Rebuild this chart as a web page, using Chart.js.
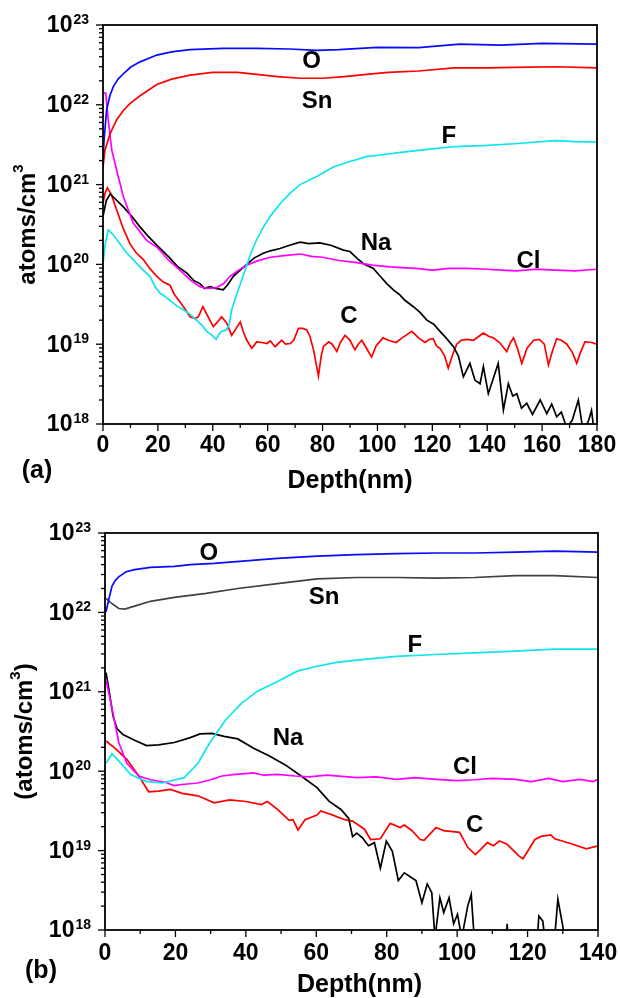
<!DOCTYPE html>
<html>
<head>
<meta charset="utf-8">
<script src="https://cdn.jsdelivr.net/npm/chart.js@4.4.0/dist/chart.umd.min.js"></script>
<style>
  html, body { margin: 0; padding: 0; background: #fff; }
  canvas { display: block; }
</style>
</head>
<body>
<canvas id="chartA" width="620" height="500"></canvas>
<canvas id="chartB" width="620" height="498"></canvas>
<script>
// ---- panel (a): depth (nm) / concentration (atoms/cm3) ----
const depthA_O  = [0, 0.5, 1.3, 2.5, 3.8, 5.5, 7.4, 10, 13.5, 19.6, 25, 31.7, 43.8, 56, 68, 78, 86, 100, 115, 130, 145, 160, 180];
const concA_O   = [2.2e21, 4.0e21, 8.5e21, 1.3e22, 1.7e22, 2.1e22, 2.45e22, 2.95e22, 3.45e22, 4.2e22, 4.6e22, 4.9e22, 5.1e22, 5.1e22, 5.0e22, 4.8e22, 4.9e22, 5.25e22, 5.2e22, 5.75e22, 5.6e22, 5.9e22, 5.75e22];

const depthA_Sn = [0, 0.7, 2.6, 5, 7.4, 10, 13.5, 19.6, 25, 31.7, 40, 49, 56, 63.5, 72, 80, 88, 96, 104, 115, 128, 140, 150, 165, 180];
const concA_Sn  = [1.65e21, 2.7e21, 4.35e21, 6.5e21, 8.5e21, 1.05e22, 1.3e22, 1.8e22, 2.1e22, 2.35e22, 2.55e22, 2.55e22, 2.4e22, 2.25e22, 2.15e22, 2.15e22, 2.25e22, 2.4e22, 2.55e22, 2.65e22, 2.9e22, 2.9e22, 2.95e22, 3.0e22, 2.9e22];

const depthA_F  = [0, 0.8, 1.9, 3.5, 6.2, 8.5, 11, 14, 17.1, 19, 20.8, 22.5, 24.4, 27, 29.3, 31.5, 34.1, 36, 37.8, 39.5, 41.2, 42.2, 43.2, 45, 46, 46.9, 48, 49.3, 51, 52.4, 54, 56, 58.5, 60.9, 64.5, 68.2, 71.8, 77.9, 83.9, 90, 96, 101, 110, 120, 128.5, 140, 150, 164.6, 172, 180];
const concA_F   = [1.02e20, 1.78e20, 2.7e20, 2.4e20, 1.82e20, 1.41e20, 1.15e20, 8.9e19, 7.1e19, 5.25e19, 4.35e19, 4.0e19, 3.55e19, 3.0e19, 2.7e19, 2.4e19, 2.0e19, 1.74e19, 1.45e19, 1.32e19, 1.15e19, 1.32e19, 1.45e19, 1.51e19, 1.78e19, 2.7e19, 3.55e19, 4.8e19, 7.1e19, 9.8e19, 1.41e20, 2.05e20, 2.95e20, 4.0e20, 5.75e20, 7.8e20, 1.0e21, 1.26e21, 1.66e21, 1.95e21, 2.24e21, 2.35e21, 2.57e21, 2.8e21, 3.0e21, 3.1e21, 3.25e21, 3.55e21, 3.45e21, 3.4e21];

const depthA_Cl = [0, 1.0, 1.9, 3.2, 5, 7.4, 11, 15.9, 19.6, 24, 28, 32, 35.3, 38, 41.4, 44, 46.3, 49, 52.4, 56, 60.9, 66, 71.8, 76, 80, 86, 92.5, 98, 104.6, 114, 120, 126, 132.5, 140, 145, 150.8, 158, 165, 172, 180];
const concA_Cl  = [1.4e22, 1.4e22, 6.5e21, 2.7e21, 1.5e21, 7.1e20, 3.3e20, 2.0e20, 1.65e20, 1.12e20, 8.5e19, 6.3e19, 5.25e19, 5.0e19, 5.1e19, 5.75e19, 7.1e19, 8.3e19, 9.8e19, 1.1e20, 1.23e20, 1.29e20, 1.35e20, 1.26e20, 1.23e20, 1.12e20, 1.05e20, 9.8e19, 9.3e19, 8.9e19, 8.5e19, 8.9e19, 8.9e19, 8.7e19, 8.5e19, 8.3e19, 8.7e19, 8.5e19, 8.3e19, 8.7e19];

const depthA_Na = [0, 1.2, 2.6, 4.5, 7.4, 10.5, 13.5, 16.5, 19.6, 22, 24.4, 27, 30.5, 33, 35.3, 37, 39, 41, 43.8, 45.5, 47.5, 50, 52.4, 55, 58.4, 61, 64.5, 68, 71.8, 75, 79, 83, 87.6, 90, 92.5, 94.9, 98.5, 101, 103.4, 105.8, 108, 110, 113.1, 115.5, 118, 120.5, 122.8, 125, 127.7, 129.5, 131.3, 133.7, 135.5, 137.4, 138.6, 140.4, 142.5, 144, 145.9, 147.7, 149.3, 150.8, 152.5, 154.4, 156.5, 159.3, 161.7, 163.5, 165.3, 167, 169, 171, 173.2, 175, 177, 178, 179, 180];
const concA_Na  = [4.0e20, 6.3e20, 7.6e20, 6.6e20, 5.25e20, 4.0e20, 2.95e20, 2.24e20, 1.74e20, 1.45e20, 1.2e20, 9.5e19, 7.8e19, 6.3e19, 5.75e19, 5.0e19, 5.25e19, 5.0e19, 4.8e19, 5.6e19, 7.1e19, 8.5e19, 1.0e20, 1.2e20, 1.38e20, 1.48e20, 1.58e20, 1.74e20, 1.9e20, 1.82e20, 1.86e20, 1.74e20, 1.51e20, 1.45e20, 1.2e20, 1.02e20, 8.9e19, 7.1e19, 5.75e19, 4.8e19, 4.2e19, 3.55e19, 2.95e19, 2.5e19, 2.0e19, 1.78e19, 1.45e19, 1.2e19, 9.3e18, 7.1e18, 3.9e18, 5.75e18, 3.55e18, 3.2e18, 5.25e18, 2.4e18, 4.0e18, 5.75e18, 1.5e18, 3.2e18, 2.24e18, 2.4e18, 1.58e18, 1.82e18, 1.32e18, 2.0e18, 1.35e18, 1.78e18, 1.23e18, 1.41e18, 8.9e17, 1.12e18, 2.0e18, 7.9e17, 1.12e18, 1.48e18, 7.9e17, 8.9e17];

const depthA_C  = [0, 0.8, 1.6, 3, 5, 7.4, 9.8, 12, 14.7, 17, 19.6, 22, 24.4, 26, 28, 29.8, 31.7, 33.5, 34.7, 36.4, 38.3, 40.2, 41.5, 43.2, 45, 46.9, 48.5, 50, 51.2, 52.4, 54.2, 56, 58, 59.7, 61, 62.7, 65.1, 66.5, 68.2, 69.5, 71.2, 72.8, 74.2, 75.4, 76.7, 78.5, 79.5, 80.3, 82.2, 83.5, 85.2, 86.5, 88.2, 90, 91.8, 93, 94.3, 96, 97.9, 99.5, 102, 104, 106.8, 109, 112.5, 115, 117.3, 119, 120.3, 121.5, 122.8, 124.5, 125.8, 127.5, 128.9, 130.5, 132.5, 135, 138.6, 140.5, 142.2, 144.5, 147.1, 148.5, 149.6, 151, 152.6, 154.5, 156.9, 159, 160.8, 162.3, 163.8, 165.3, 167, 169, 171, 172.6, 174, 175.6, 178, 180];
const concA_C   = [5.9e20, 7.9e20, 9.1e20, 7.6e20, 4.8e20, 2.8e20, 1.82e20, 1.41e20, 1.15e20, 8.9e19, 7.1e19, 6.0e19, 5.5e19, 4.2e19, 3.4e19, 2.8e19, 2.2e19, 2.1e19, 2.2e19, 2.95e19, 2.2e19, 1.66e19, 1.86e19, 2.2e19, 1.86e19, 1.29e19, 1.58e19, 1.9e19, 1.41e19, 1.12e19, 8.9e18, 1.07e19, 1.05e19, 1.02e19, 1.1e19, 9.3e18, 1.12e19, 1.0e19, 1.02e19, 1.12e19, 1.58e19, 1.58e19, 1.51e19, 1.26e19, 8.5e18, 4.0e18, 7.1e18, 9.3e18, 1.07e19, 1.0e19, 8.1e18, 1.05e19, 1.29e19, 1.12e19, 8.5e18, 1.0e19, 1.12e19, 8.9e18, 6.9e18, 9.5e18, 1.2e19, 1.12e19, 1.05e19, 1.2e19, 1.45e19, 1.2e19, 1.05e19, 1.15e19, 1.17e19, 9.5e18, 8.9e18, 7.1e18, 5.0e18, 7.6e18, 1.0e19, 1.12e19, 1.15e19, 1.12e19, 1.38e19, 1.26e19, 1.2e19, 1.05e19, 8.1e18, 1.05e19, 1.2e19, 8.9e18, 5.75e18, 8.9e18, 1.12e19, 1.15e19, 1.0e19, 5.5e18, 8.3e18, 1.17e19, 1.12e19, 1.0e19, 7.9e18, 5.75e18, 7.9e18, 1.07e19, 1.05e19, 1.0e19];

// ---- panel (b) ----
const depthB_O  = [0.3, 1, 2, 3, 3.9, 6, 8.4, 12.9, 19.7, 24.2, 31, 40, 49, 60.2, 71.5, 82.7, 94, 105, 116.5, 127.7, 140];
const concB_O   = [1.02e22, 1.41e22, 2.15e22, 2.55e22, 2.8e22, 3.25e22, 3.45e22, 3.7e22, 3.8e22, 4.0e22, 4.15e22, 4.45e22, 4.8e22, 5.1e22, 5.35e22, 5.5e22, 5.6e22, 5.6e22, 5.75e22, 5.9e22, 5.75e22];

const depthB_Sn = [0.3, 1.7, 3.9, 5.6, 8.4, 12.9, 19.7, 28.7, 37.7, 49, 60.2, 71.5, 82.7, 94, 105, 116.5, 127.7, 140];
const concB_Sn  = [1.5e22, 1.32e22, 1.12e22, 1.1e22, 1.2e22, 1.38e22, 1.55e22, 1.74e22, 2.0e22, 2.3e22, 2.65e22, 2.75e22, 2.75e22, 2.7e22, 2.75e22, 2.9e22, 2.9e22, 2.75e22];

const depthB_F  = [0.3, 2, 3.9, 7.3, 11.8, 16.3, 22.5, 26.4, 29.8, 34.3, 38.8, 43.3, 49, 54.6, 60.2, 65.8, 71.5, 82.7, 94, 105, 116.5, 127.7, 140];
const concB_F   = [1.26e20, 1.66e20, 1.35e20, 9.1e19, 7.4e19, 7.1e19, 8.3e19, 1.26e20, 2.3e20, 4.45e20, 7.2e20, 1.02e21, 1.35e21, 1.82e21, 2.1e21, 2.35e21, 2.5e21, 2.8e21, 2.95e21, 3.1e21, 3.25e21, 3.45e21, 3.45e21];

const depthB_Cl = [0.3, 1.7, 3.9, 6.2, 9.6, 12.9, 17.4, 19.5, 21.9, 26.4, 30, 33.2, 37, 42.2, 45, 49, 54, 58, 63, 71.5, 77, 82.7, 88, 94, 100, 105, 110, 116.5, 121, 126, 130, 135, 138.5, 140];
const concB_Cl  = [1.4e21, 7.2e20, 2.3e20, 1.26e20, 8.7e19, 7.8e19, 7.2e19, 6.6e19, 6.8e19, 7.1e19, 7.8e19, 8.7e19, 9.1e19, 9.5e19, 8.9e19, 9.1e19, 8.7e19, 8.5e19, 8.9e19, 8.3e19, 8.5e19, 7.9e19, 8.3e19, 7.9e19, 7.6e19, 7.8e19, 8.1e19, 7.9e19, 7.4e19, 8.1e19, 7.4e19, 7.9e19, 7.4e19, 7.9e19];

const depthB_Na = [0.3, 1.1, 2.3, 3.4, 5.1, 8.4, 11.8, 15.2, 19.7, 24.2, 27, 30.4, 33.8, 37.7, 42.2, 46.7, 51.2, 55.7, 60.2, 63.6, 67, 69.2, 70.3, 71.5, 73.1, 74.8, 76.5, 78.2, 79.9, 81.6, 83.3, 85, 88.3, 90, 91.5, 92.8, 93.7, 95.1, 96.2, 97.7, 99, 100.1, 101.3, 103, 104, 105, 110, 113.8, 114.2, 114.6, 122.5, 123.2, 124.3, 125.2, 127.5, 128.6, 130, 130.8];
const concB_Na  = [1.74e21, 1.07e21, 4.9e20, 3.45e20, 2.9e20, 2.45e20, 2.1e20, 2.15e20, 2.3e20, 2.65e20, 2.95e20, 3.0e20, 2.75e20, 2.55e20, 1.95e20, 1.55e20, 1.2e20, 8.7e19, 6.2e19, 4.2e19, 3.3e19, 2.55e19, 1.5e19, 1.66e19, 1.45e19, 1.15e19, 1.26e19, 6.0e18, 1.32e19, 9.8e18, 4.2e18, 5.25e18, 4.2e18, 2.2e18, 3.8e18, 2.95e18, 7.9e17, 2.55e18, 1.66e18, 2.55e18, 1.2e18, 1.58e18, 7.9e17, 2.0e18, 2.8e18, 6.3e17, 5e17, 5e17, 1.2e18, 5e17, 5e17, 1.5e18, 1.3e18, 6.3e17, 6.3e17, 2.45e18, 1.12e18, 6.3e17];

const depthB_C  = [0.3, 2.8, 6.2, 9.6, 12.4, 15.2, 18.6, 21.9, 26.4, 31, 35.4, 40, 44.4, 46.1, 49, 52.3, 53.4, 54.8, 56.8, 60.2, 61.3, 64.7, 68.1, 70.3, 73.7, 75.4, 78.2, 81, 83.8, 85, 87.2, 89.5, 90.6, 94, 96.2, 100.7, 103, 105.2, 108.6, 110.3, 112, 114.2, 117.6, 118.7, 122.1, 123.8, 126.6, 127.7, 132.2, 136.7, 140];
const concB_C   = [2.4e20, 1.95e20, 1.41e20, 8.7e19, 5.5e19, 5.6e19, 5.9e19, 5.25e19, 4.9e19, 4.0e19, 4.35e19, 4.15e19, 3.8e19, 4.15e19, 3.3e19, 2.4e19, 2.45e19, 1.82e19, 2.45e19, 2.8e19, 3.15e19, 2.8e19, 2.45e19, 2.35e19, 1.86e19, 1.38e19, 1.41e19, 2.2e19, 1.95e19, 2.1e19, 1.78e19, 1.38e19, 1.35e19, 1.95e19, 1.78e19, 1.7e19, 1.1e19, 8.9e18, 1.26e19, 1.15e19, 1.32e19, 1.2e19, 8.5e18, 7.9e18, 1.38e19, 1.51e19, 1.58e19, 1.41e19, 1.23e19, 1.05e19, 1.15e19];

// ---- axes and labels ----
const yExponents = [18, 19, 20, 21, 22, 23];
const xTicksA = [0, 20, 40, 60, 80, 100, 120, 140, 160, 180];
const xTicksB = [0, 20, 40, 60, 80, 100, 120, 140];

const speciesA = ['O', 'Sn', 'F', 'Na', 'Cl', 'C'];
const speciesDepthA = [76, 78, 126, 99.5, 155, 89.6];
const speciesConcA = [3.5e22, 1.1e22, 4.0e21, 1.85e20, 1.1e20, 2.2e19];

const speciesB = ['O', 'Sn', 'F', 'Na', 'Cl', 'C'];
const speciesDepthB = [29.5, 62.2, 88, 52, 102.2, 105];
const speciesConcB = [5.6e22, 1.55e22, 3.8e21, 2.6e20, 1.12e20, 2.05e19];

const FAMILY = '"Liberation Sans", Arial, sans-serif';
const TICK_FONT = 'bold 23px ' + FAMILY;
const EXP_FONT = 'bold 14px ' + FAMILY;
const TITLE_FONT = 'bold 24px ' + FAMILY;
const SUP_FONT = 'bold 15px ' + FAMILY;

function pts(xs, ys) {
  return xs.map((x, i) => ({ x: x, y: ys[i] }));
}

function line(ctx, x1, y1, x2, y2) {
  ctx.beginPath();
  ctx.moveTo(x1, y1);
  ctx.lineTo(x2, y2);
  ctx.stroke();
}

// "10" with the exponent raised, right edge at `right`
function drawPower(ctx, exp, right, cy) {
  const e = String(exp);
  ctx.font = TICK_FONT;
  const w1 = ctx.measureText('10').width;
  ctx.font = EXP_FONT;
  const w2 = ctx.measureText(e).width;
  ctx.textAlign = 'left';
  ctx.font = TICK_FONT;
  ctx.textBaseline = 'middle';
  ctx.fillText('10', right - w2 - w1 - 1, cy + 1);
  ctx.font = EXP_FONT;
  ctx.textBaseline = 'alphabetic';
  ctx.fillText(e, right - w2, cy - 1);
}

// vertical title; parts = [[text, isSuperscript], ...]
function drawYTitle(ctx, parts, cx, cy) {
  ctx.save();
  ctx.translate(cx, cy);
  ctx.rotate(-Math.PI / 2);
  let total = 0;
  const widths = parts.map(p => {
    ctx.font = p[1] ? SUP_FONT : TITLE_FONT;
    const w = ctx.measureText(p[0]).width;
    total += w;
    return w;
  });
  let x = -total / 2;
  ctx.textAlign = 'left';
  ctx.textBaseline = 'middle';
  parts.forEach((p, i) => {
    ctx.font = p[1] ? SUP_FONT : TITLE_FONT;
    ctx.fillText(p[0], x, p[1] ? -9 : 0);
    x += widths[i];
  });
  ctx.restore();
}

function decor(spec) {
  return {
    id: 'decor' + spec.letter,
    afterDraw(chart) {
      const ctx = chart.ctx;
      const ca = chart.chartArea;
      const xs = chart.scales.x;
      const ys = chart.scales.y;
      ctx.save();
      ctx.fillStyle = '#000';
      ctx.strokeStyle = '#000';

      // frame
      ctx.lineWidth = 1.8;
      ctx.strokeRect(ca.left, ca.top, ca.right - ca.left, ca.bottom - ca.top);

      // y ticks (decades + minor 2..9)
      ctx.lineWidth = 1.3;
      yExponents.forEach((e, i) => {
        const py = ys.getPixelForValue(Math.pow(10, e));
        line(ctx, ca.left - 7, py, ca.left, py);
        if (i < yExponents.length - 1) {
          for (let m = 2; m <= 9; m++) {
            const pm = ys.getPixelForValue(m * Math.pow(10, e));
            line(ctx, ca.left - 4, pm, ca.left, pm);
          }
        }
        drawPower(ctx, e, ca.left - 14, py);
      });

      // x ticks
      const xt = spec.xTicks;
      ctx.font = TICK_FONT;
      ctx.textAlign = 'center';
      ctx.textBaseline = 'middle';
      xt.forEach((v, i) => {
        const px = xs.getPixelForValue(v);
        line(ctx, px, ca.bottom, px, ca.bottom + 7);
        if (i < xt.length - 1) {
          const pm = xs.getPixelForValue((v + xt[i + 1]) / 2);
          line(ctx, pm, ca.bottom, pm, ca.bottom + 4);
        }
        ctx.fillText(String(v), px, ca.bottom + spec.tickLabelGap);
      });

      // axis titles and panel letter
      ctx.font = 'bold 25px ' + FAMILY;
      ctx.fillText('Depth(nm)', (ca.left + ca.right) / 2 + spec.xTitleShift, ca.bottom + spec.xTitleGap);
      ctx.fillText('(' + spec.letter + ')', spec.letterX, ca.bottom + spec.letterGap);
      drawYTitle(ctx, spec.yTitle, spec.yTitleX, (ca.top + ca.bottom) / 2);

      // species names
      ctx.font = TITLE_FONT;
      ctx.textAlign = 'center';
      ctx.textBaseline = 'middle';
      spec.names.forEach((n, i) => {
        ctx.fillText(n, xs.getPixelForValue(spec.nameDepth[i]), ys.getPixelForValue(spec.nameConc[i]));
      });
      ctx.restore();
    }
  };
}

function series(label, xs, ys, color) {
  return {
    label: label,
    data: pts(xs, ys),
    borderColor: color,
    borderWidth: 1.7,
    pointRadius: 0,
    tension: 0,
    fill: false
  };
}

function makeChart(id, datasets, xMax, layout, spec) {
  return new Chart(document.getElementById(id), {
    type: 'line',
    data: { datasets: datasets },
    options: {
      responsive: false,
      animation: false,
      parsing: false,
      layout: { padding: { left: 0, top: layout.top, right: layout.right, bottom: 0 } },
      plugins: { legend: { display: false }, tooltip: { enabled: false } },
      scales: {
        x: {
          type: 'linear', min: 0, max: xMax,
          grid: { display: false }, border: { display: false },
          ticks: { display: false },
          afterFit(s) { s.height = layout.xHeight; }
        },
        y: {
          type: 'logarithmic', min: 1e18, max: 1e23,
          grid: { display: false }, border: { display: false },
          ticks: { display: false },
          afterFit(s) { s.width = layout.left; }
        }
      }
    },
    plugins: [decor(spec)]
  });
}

const BLUE = '#0a0aff', RED = '#ff0000', MAGENTA = '#ff00ff', CYAN = '#10e4ec', BLACK = '#000000', GREY = '#404040';

makeChart('chartA', [
  series('O', depthA_O, concA_O, BLUE),
  series('Sn', depthA_Sn, concA_Sn, RED),
  series('F', depthA_F, concA_F, CYAN),
  series('Cl', depthA_Cl, concA_Cl, MAGENTA),
  series('Na', depthA_Na, concA_Na, BLACK),
  series('C', depthA_C, concA_C, RED)
], 180, { top: 25, right: 23, left: 103, xHeight: 76 }, {
  letter: 'a', xTicks: xTicksA, tickLabelGap: 22, xTitleGap: 57, xTitleShift: 0,
  letterX: 37, letterGap: 47,
  yTitle: [['atoms/cm', false], ['3', true]], yTitleX: 28,
  names: speciesA, nameDepth: speciesDepthA, nameConc: speciesConcA
});

makeChart('chartB', [
  series('O', depthB_O, concB_O, BLUE),
  series('Sn', depthB_Sn, concB_Sn, GREY),
  series('F', depthB_F, concB_F, CYAN),
  series('Cl', depthB_Cl, concB_Cl, MAGENTA),
  series('Na', depthB_Na, concB_Na, BLACK),
  series('C', depthB_C, concB_C, RED)
], 140, { top: 33, right: 22, left: 105, xHeight: 68 }, {
  letter: 'b', xTicks: xTicksB, tickLabelGap: 24, xTitleGap: 55, xTitleShift: 8,
  letterX: 41, letterGap: 41,
  yTitle: [['(atoms/cm', false], ['3', true], [')', false]], yTitleX: 25,
  names: speciesB, nameDepth: speciesDepthB, nameConc: speciesConcB
});
</script>
</body>
</html>
